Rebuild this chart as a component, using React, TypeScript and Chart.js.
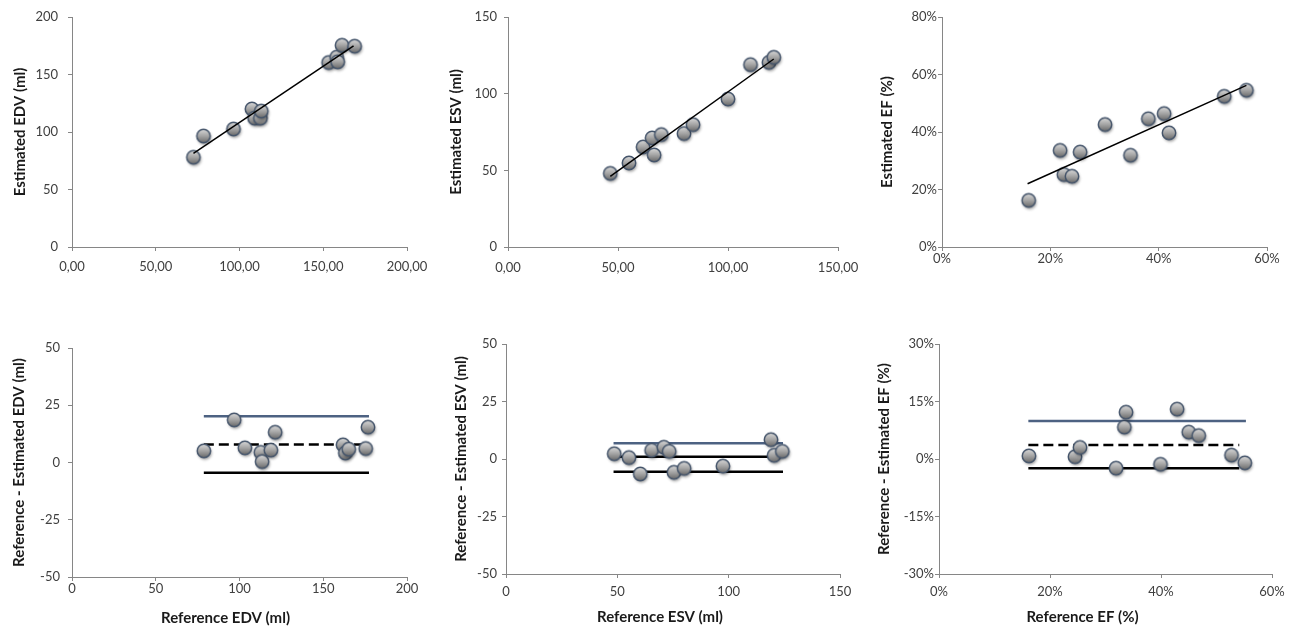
import { useEffect, useRef } from 'react';
import { Chart, registerables } from 'chart.js';

Chart.register(...registerables);

// ---------- Data ----------
// Panel 1: EDV scatter
const edvScatterX = [72.5, 78.5, 96.4, 107.4, 109.0, 112.5, 113.0, 153.2, 158.0, 158.6, 161.2, 168.7];
const edvScatterY = [78.0, 96.5, 102.6, 120.0, 112.0, 112.0, 118.2, 160.4, 165.0, 161.0, 175.4, 174.6];
const edvTrendX = [72.5, 168.1];
const edvTrendY = [81.5, 174.9];

// Panel 2: ESV scatter
const esvScatterX = [46.5, 55.0, 61.4, 65.5, 66.4, 69.7, 80.0, 84.1, 100.0, 110.2, 118.6, 120.8];
const esvScatterY = [48.0, 54.8, 65.2, 71.1, 60.0, 73.3, 74.0, 79.8, 96.5, 118.9, 120.4, 123.7];
const esvTrendX = [46.5, 120.8];
const esvTrendY = [46.1, 122.6];

// Panel 3: EF scatter (%)
const efScatterX = [16.0, 21.8, 22.5, 24.0, 25.5, 30.1, 34.8, 38.1, 41.0, 41.9, 52.1, 56.2];
const efScatterY = [16.2, 33.6, 25.2, 24.6, 33.0, 42.6, 31.9, 44.6, 46.4, 39.7, 52.4, 54.5];
const efTrendX = [15.8, 56.2];
const efTrendY = [22.0, 56.2];

// Panel 4: EDV Bland-Altman
const edvBaX = [78.7, 96.8, 103.2, 112.7, 113.5, 118.7, 121.3, 161.8, 163.2, 165.2, 175.3, 176.7];
const edvBaY = [5.1, 18.6, 6.4, 4.4, 0.4, 5.4, 13.2, 7.7, 4.1, 5.8, 6.1, 15.4];
const edvBaRange = [78.7, 177.3];
const edvBaUpper = 20.2;
const edvBaMean = 7.9;
const edvBaLower = -4.5;

// Panel 5: ESV Bland-Altman
const esvBaX = [48.6, 55.2, 60.3, 65.4, 70.9, 73.3, 75.4, 80.0, 97.4, 119.0, 120.4, 124.1];
const esvBaY = [2.3, 0.6, -6.5, 3.8, 5.1, 3.3, -5.8, -4.1, -3.1, 8.4, 1.6, 3.3];
const esvBaRange = [48.3, 124.4];
const esvBaUpper = 6.8;
const esvBaMean = 1.0;
const esvBaLower = -5.5;

// Panel 6: EF Bland-Altman (%)
const efBaX = [16.2, 24.5, 25.4, 31.9, 33.4, 33.7, 39.9, 42.9, 45.0, 46.8, 52.7, 55.1];
const efBaY = [0.8, 0.6, 3.0, -2.4, 8.3, 12.2, -1.4, 13.0, 7.0, 6.1, 1.0, -1.0];
const efBaRange = [16.1, 54.1];
const efBaUpperRange = [16.1, 55.3];
const efBaUpper = 9.9;
const efBaMean = 3.65;
const efBaLower = -2.4;

// ---------- Styling helpers ----------
const FONT = "Lato, 'Noto Sans', 'Liberation Sans', sans-serif";
const AXIS_GRAY = '#868686';
const TICK_COLOR = '#404040';
const TITLE_COLOR = '#1a1a1a';
const LIMIT_BLUE = '#4d6282';
const TITLE_SIZE = 15;

const decComma = (v: number) => v.toFixed(2).replace('.', ',');
const plain = (v: number) => String(v);
const pct = (v: number) => `${v}%`;

function makeMarker(): HTMLCanvasElement {
  const c = document.createElement('canvas');
  c.width = 24;
  c.height = 24;
  const g = c.getContext('2d')!;
  g.save();
  g.shadowColor = 'rgba(0,0,0,0.4)';
  g.shadowBlur = 3;
  g.shadowOffsetX = 1;
  g.shadowOffsetY = 2;
  g.beginPath();
  g.arc(12, 12, 6.7, 0, Math.PI * 2);
  const grad = g.createLinearGradient(0, 5, 0, 19);
  grad.addColorStop(0, '#dadada');
  grad.addColorStop(0.5, '#a4a4a4');
  grad.addColorStop(1, '#676767');
  g.fillStyle = grad;
  g.fill();
  g.restore();
  g.beginPath();
  g.arc(12, 12, 6.7, 0, Math.PI * 2);
  g.lineWidth = 1.5;
  g.strokeStyle = '#44546a';
  g.stroke();
  return c;
}

type LineSpec = { xs: number[]; ys: number[]; color: string; width: number; dash?: number[] };

type Panel = {
  left: number; top: number; width: number; height: number;
  padLeft: number; padTop: number; padRight: number;
  yw: number; xh: number;
  xMin: number; xMax: number; xStep: number; xFmt: (v: number) => string;
  yMin: number; yMax: number; yStep: number; yFmt: (v: number) => string;
  yTitle: string;
  xTitle?: string; xTitleDx?: number; xTitleY?: number;
  xTickPad: number; yTickPad: number;
  px: number[]; py: number[];
  lines: LineSpec[];
  linesOnTop: boolean;
};

const hLine = (range: number[], v: number) => range.map(() => v);

const panels: Panel[] = [
  {
    left: 0, top: 0, width: 430, height: 300,
    padLeft: 11, padTop: 17, padRight: 23, yw: 61, xh: 53,
    xMin: 0, xMax: 200, xStep: 50, xFmt: decComma,
    yMin: 0, yMax: 200, yStep: 50, yFmt: plain,
    yTitle: 'Estimated EDV (ml)',
    xTickPad: 8, yTickPad: 10,
    px: edvScatterX, py: edvScatterY,
    lines: [{ xs: edvTrendX, ys: edvTrendY, color: '#000000', width: 1.5 }],
    linesOnTop: true,
  },
  {
    left: 430, top: 0, width: 430, height: 300,
    padLeft: 17, padTop: 17, padRight: 22, yw: 61, xh: 53,
    xMin: 0, xMax: 150, xStep: 50, xFmt: decComma,
    yMin: 0, yMax: 150, yStep: 50, yFmt: plain,
    yTitle: 'Estimated ESV (ml)',
    xTickPad: 9, yTickPad: 7,
    px: esvScatterX, py: esvScatterY,
    lines: [{ xs: esvTrendX, ys: esvTrendY, color: '#000000', width: 1.5 }],
    linesOnTop: true,
  },
  {
    left: 860, top: 0, width: 434, height: 300,
    padLeft: 18, padTop: 17, padRight: 27, yw: 64, xh: 53,
    xMin: 0, xMax: 60, xStep: 20, xFmt: pct,
    yMin: 0, yMax: 80, yStep: 20, yFmt: pct,
    yTitle: 'Estimated EF (%)',
    xTickPad: 0, yTickPad: 1,
    px: efScatterX, py: efScatterY,
    lines: [{ xs: efTrendX, ys: efTrendY, color: '#000000', width: 1.5 }],
    linesOnTop: true,
  },
  {
    left: 0, top: 300, width: 430, height: 328,
    padLeft: 10, padTop: 48, padRight: 23, yw: 62, xh: 51,
    xMin: 0, xMax: 200, xStep: 50, xFmt: plain,
    yMin: -50, yMax: 50, yStep: 25, yFmt: plain,
    yTitle: 'Reference - Estimated EDV (ml)',
    xTitle: 'Reference EDV (ml)', xTitleDx: -14, xTitleY: 618,
    xTickPad: 0, yTickPad: 8,
    px: edvBaX, py: edvBaY,
    lines: [
      { xs: edvBaRange, ys: hLine(edvBaRange, edvBaUpper), color: LIMIT_BLUE, width: 2.5 },
      { xs: edvBaRange, ys: hLine(edvBaRange, edvBaMean), color: '#000000', width: 2.5, dash: [10, 5] },
      { xs: edvBaRange, ys: hLine(edvBaRange, edvBaLower), color: '#000000', width: 2.5 },
    ],
    linesOnTop: false,
  },
  {
    left: 430, top: 300, width: 430, height: 328,
    padLeft: 22, padTop: 44, padRight: 20, yw: 54, xh: 54,
    xMin: 0, xMax: 150, xStep: 50, xFmt: plain,
    yMin: -50, yMax: 50, yStep: 25, yFmt: plain,
    yTitle: 'Reference - Estimated ESV (ml)',
    xTitle: 'Reference ESV (ml)', xTitleDx: -13, xTitleY: 617,
    xTickPad: 6, yTickPad: 5,
    px: esvBaX, py: esvBaY,
    lines: [
      { xs: esvBaRange, ys: hLine(esvBaRange, esvBaUpper), color: LIMIT_BLUE, width: 2.5 },
      { xs: esvBaRange, ys: hLine(esvBaRange, esvBaMean), color: '#000000', width: 2.5 },
      { xs: esvBaRange, ys: hLine(esvBaRange, esvBaLower), color: '#000000', width: 2.5 },
    ],
    linesOnTop: false,
  },
  {
    left: 860, top: 300, width: 434, height: 328,
    padLeft: 15, padTop: 44, padRight: 22, yw: 64, xh: 54,
    xMin: 0, xMax: 60, xStep: 20, xFmt: pct,
    yMin: -30, yMax: 30, yStep: 15, yFmt: pct,
    yTitle: 'Reference - Estimated EF (%)',
    xTitle: 'Reference EF (%)', xTitleDx: -23, xTitleY: 617,
    xTickPad: 6, yTickPad: 1,
    px: efBaX, py: efBaY,
    lines: [
      { xs: efBaUpperRange, ys: hLine(efBaUpperRange, efBaUpper), color: LIMIT_BLUE, width: 2.5 },
      { xs: efBaRange, ys: hLine(efBaRange, efBaMean), color: '#000000', width: 2.5, dash: [10, 5] },
      { xs: efBaRange, ys: hLine(efBaRange, efBaLower), color: '#000000', width: 2.5 },
    ],
    linesOnTop: false,
  },
];

function PanelChart({ p }: { p: Panel }) {
  const ref = useRef<HTMLCanvasElement | null>(null);
  useEffect(() => {
    if (!ref.current) return;
    const marker = makeMarker();
    const datasets: any[] = [
      {
        data: p.px.map((x, i) => ({ x, y: p.py[i] })),
        pointStyle: marker,
        pointRadius: 7,
        showLine: false,
        order: p.linesOnTop ? 5 : 0,
      },
      ...p.lines.map((l) => ({
        data: l.xs.map((x, i) => ({ x, y: l.ys[i] })),
        showLine: true,
        pointRadius: 0,
        borderColor: l.color,
        borderWidth: l.width,
        borderDash: l.dash || [],
        borderCapStyle: 'butt',
        fill: false,
        order: p.linesOnTop ? 0 : 5,
      })),
    ];
    const chart = new Chart(ref.current, {
      type: 'scatter',
      data: { datasets },
      options: {
        animation: false,
        responsive: false,
        events: [],
        layout: { padding: { left: p.padLeft, top: p.padTop, right: p.padRight, bottom: 0 } },
        plugins: { legend: { display: false }, tooltip: { enabled: false } },
        scales: {
          x: {
            type: 'linear',
            min: p.xMin,
            max: p.xMax,
            afterFit: (s: any) => {
              s.height = p.xh;
              s.paddingLeft = 0;
              s.paddingRight = 0;
            },
            ticks: {
              stepSize: p.xStep,
              padding: p.xTickPad,
              color: TICK_COLOR,
              font: { family: FONT, size: 13 },
              maxRotation: 0,
              callback: (v: any) => p.xFmt(Number(v)),
            },
            grid: { drawOnChartArea: false, drawTicks: true, tickLength: 4, color: AXIS_GRAY },
            border: { color: AXIS_GRAY, width: 1 },
          },
          y: {
            type: 'linear',
            min: p.yMin,
            max: p.yMax,
            afterFit: (s: any) => {
              s.width = p.yw;
              s.paddingTop = 0;
              s.paddingBottom = 0;
            },
            ticks: {
              stepSize: p.yStep,
              padding: p.yTickPad,
              color: TICK_COLOR,
              font: { family: FONT, size: 13 },
              callback: (v: any) => p.yFmt(Number(v)),
            },
            grid: { drawOnChartArea: false, drawTicks: true, tickLength: 4, color: AXIS_GRAY },
            border: { color: AXIS_GRAY, width: 1 },
            title: {
              display: true,
              text: p.yTitle,
              color: TITLE_COLOR,
              padding: { top: 0, bottom: 0 },
              font: { family: FONT, size: TITLE_SIZE, weight: 'bold' },
            },
          },
        },
      },
      plugins: [
        {
          id: 'xTitle',
          afterDraw(chart: any) {
            if (!p.xTitle) return;
            const ca = chart.chartArea;
            const ctx = chart.ctx;
            ctx.save();
            ctx.font = `bold ${TITLE_SIZE}px ${FONT}`;
            ctx.fillStyle = TITLE_COLOR;
            ctx.textAlign = 'center';
            ctx.textBaseline = 'middle';
            ctx.fillText(p.xTitle, (ca.left + ca.right) / 2 + (p.xTitleDx || 0), (p.xTitleY || 0) - p.top);
            ctx.restore();
          },
        },
      ],
    } as any);
    return () => chart.destroy();
  }, [p]);
  return (
    <canvas
      ref={ref}
      width={p.width}
      height={p.height}
      style={{ position: 'absolute', left: p.left, top: p.top, width: p.width, height: p.height }}
    />
  );
}

export default function App() {
  return (
    <div style={{ position: 'absolute', left: 0, top: 0, width: 1294, height: 628, background: '#ffffff', overflow: 'hidden' }}>
      {panels.map((p, i) => (
        <PanelChart key={i} p={p} />
      ))}
    </div>
  );
}
